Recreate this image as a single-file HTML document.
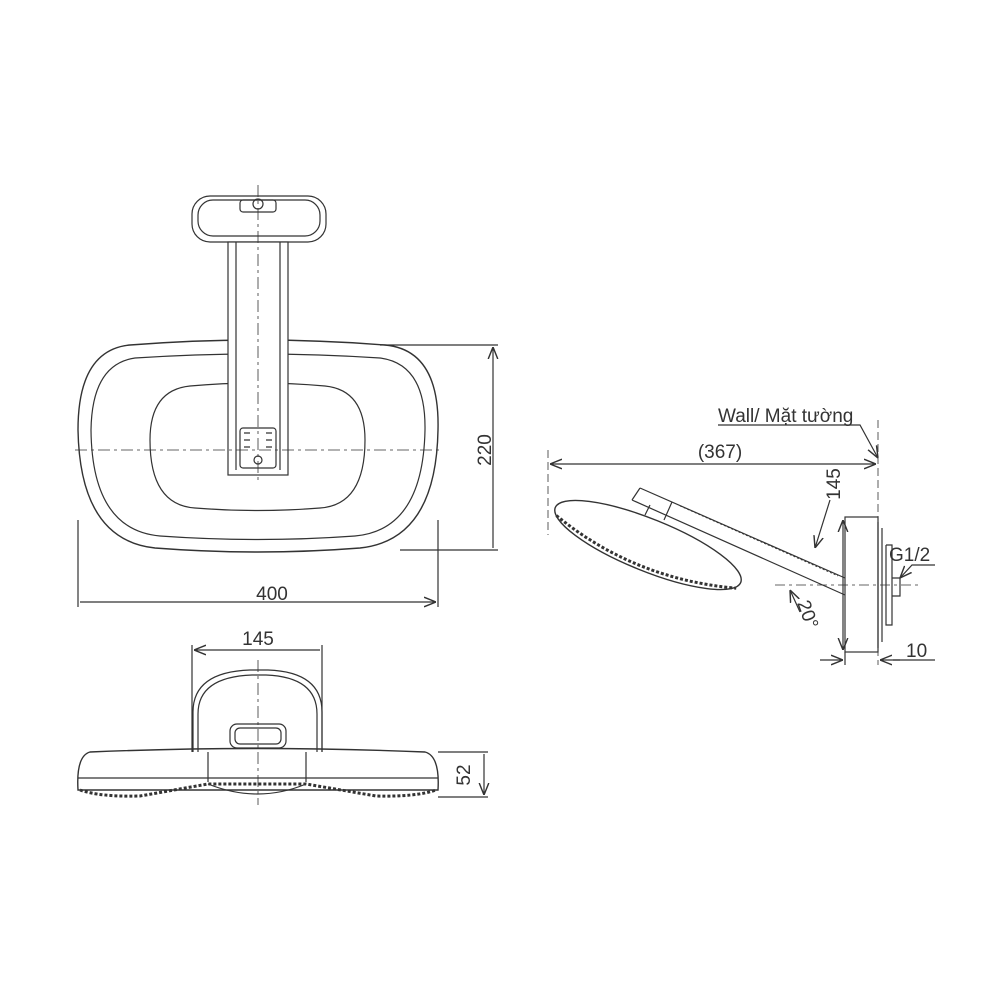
<!DOCTYPE html>
<html><head><style>body{margin:0;background:#fff}svg{display:block}text{font-family:"Liberation Sans",sans-serif;fill:#333}</style></head><body>
<svg width="1000" height="1000" viewBox="0 0 1000 1000" fill="none" stroke="#333" stroke-width="1.2">
<defs><marker id="a" viewBox="0 0 10 10" refX="10" refY="5" markerWidth="10" markerHeight="10" orient="auto-start-reverse"><path d="M0 1L10 5L0 9" stroke="#333" fill="none"/></marker></defs>
<!-- top view -->
<path d="M130 345 Q258 335 385 345 Q440 350 438 430 Q436 540 360 548 Q258 556 155 548 Q80 540 78 430 Q78 350 130 345Z" stroke-width="1.4"/>
<path d="M135 358 Q258 350 380 358 Q426 364 425 430 Q423 530 355 536 Q258 543 160 536 Q92 530 91 430 Q92 364 135 358Z"/>
<path d="M190 386 Q258 380 325 386 Q365 390 365 440 Q365 505 320 508 Q258 513 195 508 Q150 505 150 440 Q150 390 190 386Z"/>
<rect x="192" y="196" width="134" height="46" rx="18"/>
<rect x="198" y="200" width="122" height="36" rx="15"/>
<rect x="240" y="200" width="36" height="12" rx="3"/>
<circle cx="258" cy="204" r="5"/>
<rect x="228" y="242" width="60" height="233" fill="#fff"/><path d="M236 242V470M280 242V470"/>
<rect x="240" y="428" width="36" height="40" rx="3"/>
<circle cx="258" cy="460" r="4"/>
<path d="M244 433h6M244 440h6M244 447h6M266 433h6M266 440h6M266 447h6"/>
<path d="M75 450H440M258 185V480" stroke-dasharray="12 4 3 4" stroke-width="0.8"/>
<path d="M380 345H498M400 550H498M78 520V607M438 520V607"/>
<path d="M493 347V548M80 602H436" marker-start="url(#a)" marker-end="url(#a)"/>
<text x="272" y="600" font-size="19" text-anchor="middle" stroke="none">400</text>
<text transform="translate(491,450) rotate(-90)" font-size="19" text-anchor="middle" stroke="none">220</text>
<!-- bottom view -->
<path d="M193 752V712Q193 672 250 670H268Q322 672 322 712V752"/>
<path d="M198 752V714Q198 677 252 675H266Q317 677 317 714V752"/>
<rect x="230" y="724" width="56" height="24" rx="7"/><rect x="235" y="728" width="46" height="16" rx="5"/>
<path d="M90 752Q258 745 425 752Q440 756 438 790H78Q76 756 90 752Z" stroke-width="1.4"/>
<path d="M78 778H438M208 752V782M306 752V782"/>
<path d="M80 790Q100 797 140 796L208 784H306L376 796Q416 797 436 790" stroke-width="3" stroke-dasharray="3 2"/>
<path d="M208 784Q258 804 306 784"/>
<path d="M258 660V805" stroke-dasharray="12 4 3 4" stroke-width="0.8"/>
<path d="M192 645V752M322 645V752M438 752H488M438 797H488"/>
<path d="M194 650H320M484 754V795" marker-start="url(#a)" marker-end="url(#a)"/>
<text x="258" y="645" font-size="19" text-anchor="middle" stroke="none">145</text>
<text transform="translate(470,775) rotate(-90)" font-size="19" text-anchor="middle" stroke="none">52</text>
<!-- side view -->
<path d="M640 488L845 578M632 500L845 595M640 488L632 500M672 502L664 520M650 505L645 515" />
<path d="M680 506L838 576" stroke-dasharray="2 2" stroke-width="0.8"/>
<g transform="rotate(22 648 545)">
<ellipse cx="648" cy="545" rx="100" ry="26" stroke-width="1.4" fill="#fff"/>
<path d="M552 552Q648 582 746 552" stroke-width="3" stroke-dasharray="3 2"/>
</g>
<rect x="845" y="517" width="33" height="135"/>
<path d="M878 522V648M882 528V642M886 545V625h6V545h-6M892 578h8v18h-8"/>
<path d="M775 585H918" stroke-dasharray="10 4 3 4" stroke-width="0.8"/>
<path d="M548 450V535M878 420V665" stroke-dasharray="8 4" stroke-width="0.8"/>
<path d="M550 464H876" marker-start="url(#a)" marker-end="url(#a)"/>
<path d="M718 425H860L878 458" marker-end="url(#a)"/>
<path d="M843 520V650" marker-start="url(#a)" marker-end="url(#a)"/>
<path d="M830 500L815 548" marker-end="url(#a)"/>
<path d="M845 652V665M893 660H935" />
<path d="M820 660H843" marker-end="url(#a)"/><path d="M900 660H880" marker-end="url(#a)"/>
<path d="M935 565H912L900 578" marker-end="url(#a)"/>
<path d="M800 612L790 590" marker-end="url(#a)"/>
<text x="718" y="422" font-size="19" stroke="none">Wall/ Mặt tường</text>
<text x="720" y="458" font-size="19" text-anchor="middle" stroke="none">(367)</text>
<text transform="translate(840,484) rotate(-90)" font-size="19" text-anchor="middle" stroke="none">145</text>
<text x="889" y="561" font-size="19" stroke="none">G1/2</text>
<text x="906" y="657" font-size="19" stroke="none">10</text>
<text transform="translate(797,603) rotate(70)" font-size="19" stroke="none">20°</text>
</svg></body></html>
